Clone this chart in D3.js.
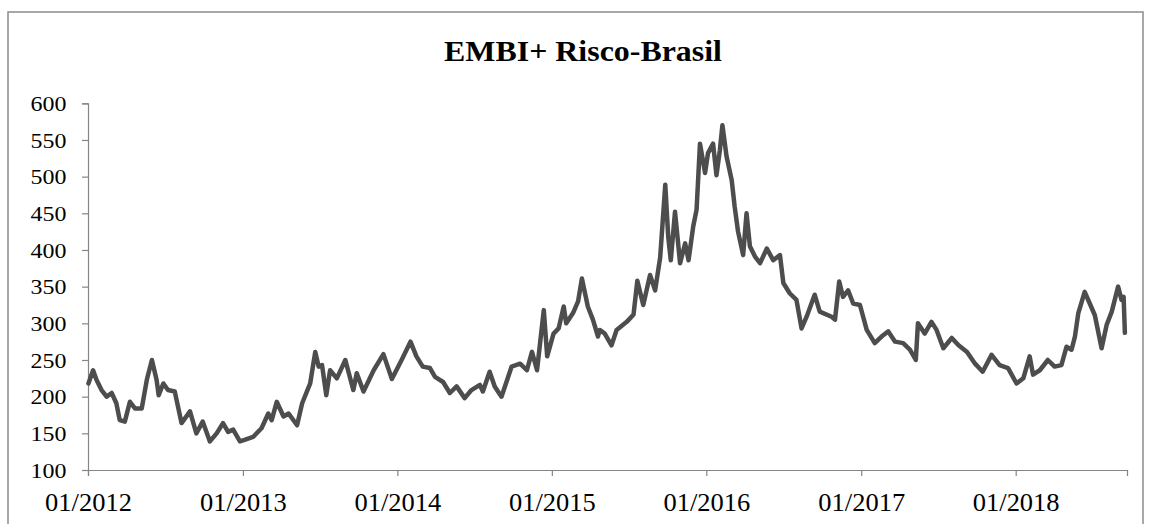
<!DOCTYPE html>
<html>
<head>
<meta charset="utf-8">
<script src="https://cdn.jsdelivr.net/npm/d3@7"></script>
<style>
  html, body { margin: 0; padding: 0; background: #ffffff; }
  svg { display: block; }
</style>
</head>
<body>
<svg id="chart" width="1153" height="524"></svg>
<script>
const title = "EMBI+ Risco-Brasil";
const yTicks = [100, 150, 200, 250, 300, 350, 400, 450, 500, 550, 600];
const xTickDates = ["2012-01-01","2013-01-01","2014-01-01","2015-01-01","2016-01-01","2017-01-01","2018-01-01"];
const xDomain = ["2012-01-01", "2018-09-21"];

const dates = [
"2012-01-02","2012-01-13","2012-01-21","2012-02-02","2012-02-14","2012-02-26","2012-03-08","2012-03-16","2012-03-28","2012-04-09",
"2012-04-21","2012-05-07","2012-05-19","2012-05-31","2012-06-11","2012-06-16","2012-06-27","2012-07-08","2012-07-24","2012-08-09",
"2012-08-29","2012-09-13","2012-09-28","2012-10-15","2012-10-31","2012-11-15","2012-11-27","2012-12-09","2012-12-25","2013-01-05",
"2013-01-25","2013-02-14","2013-03-02","2013-03-10","2013-03-22","2013-04-07","2013-04-19","2013-05-09","2013-05-21","2013-06-09",
"2013-06-21","2013-06-29","2013-07-07","2013-07-17","2013-07-26","2013-08-11","2013-08-31","2013-09-19","2013-09-27","2013-10-13",
"2013-11-06","2013-11-29","2013-12-19","2014-01-11","2014-02-01","2014-02-15","2014-03-02","2014-03-19","2014-03-31","2014-04-19",
"2014-05-05","2014-05-21","2014-06-09","2014-06-25","2014-07-15","2014-07-22","2014-08-07","2014-08-19","2014-09-04","2014-09-28",
"2014-10-18","2014-11-03","2014-11-15","2014-11-27","2014-12-13","2014-12-21","2015-01-05","2015-01-17","2015-01-29","2015-02-04",
"2015-02-20","2015-03-04","2015-03-13","2015-03-27","2015-04-08","2015-04-20","2015-04-24","2015-05-06","2015-05-22","2015-06-03",
"2015-06-27","2015-07-13","2015-07-22","2015-08-05","2015-08-21","2015-09-02","2015-09-14","2015-09-26","2015-10-03","2015-10-09",
"2015-10-19","2015-10-31","2015-11-12","2015-11-20","2015-12-01","2015-12-09","2015-12-17","2015-12-29","2016-01-05","2016-01-17",
"2016-01-25","2016-02-02","2016-02-08","2016-02-18","2016-03-01","2016-03-08","2016-03-16","2016-03-28","2016-04-05","2016-04-13",
"2016-04-25","2016-05-07","2016-05-23","2016-06-07","2016-06-23","2016-07-01","2016-07-16","2016-08-01","2016-08-13","2016-08-25",
"2016-09-13","2016-09-25","2016-10-23","2016-10-31","2016-11-10","2016-11-19","2016-12-01","2016-12-13","2016-12-29","2017-01-14",
"2017-02-02","2017-02-18","2017-03-06","2017-03-22","2017-04-10","2017-04-26","2017-05-10","2017-05-15","2017-05-31","2017-06-16",
"2017-06-28","2017-07-14","2017-08-03","2017-08-19","2017-09-08","2017-09-27","2017-10-15","2017-11-05","2017-11-24","2017-12-14",
"2018-01-03","2018-01-19","2018-02-03","2018-02-11","2018-02-27","2018-03-18","2018-04-03","2018-04-19","2018-05-01","2018-05-13",
"2018-05-21","2018-05-29","2018-06-13","2018-06-25","2018-07-07","2018-07-23","2018-08-04","2018-08-16","2018-08-31","2018-09-08",
"2018-09-13","2018-09-16"
];

const values = [
218,236,223,209,200,205,191,168,166,193,
184,184,223,250,223,202,218,209,207,164,
180,150,166,139,150,164,152,155,139,141,
145,157,177,168,193,173,177,161,191,218,
261,241,243,202,236,225,250,209,232,207,
236,258,224,250,275,255,241,239,227,220,
205,214,198,209,216,207,234,214,200,241,
245,236,261,236,318,255,286,293,323,300,
314,330,361,323,305,282,291,286,270,291,
302,312,358,325,366,345,390,489,418,386,
452,382,409,386,432,455,545,505,532,545,
502,536,570,527,495,459,425,393,450,405,
391,382,402,386,393,355,341,332,293,309,
339,316,309,305,357,336,345,327,325,291,
273,282,289,275,273,264,250,300,286,302,
291,266,280,270,261,245,234,257,243,239,
218,225,255,230,236,250,241,243,268,264,
282,314,343,327,311,266,298,316,350,332,
336,287
];

const parse = d3.timeParse("%Y-%m-%d");
const data = dates.map((d, i) => ({ date: parse(d), value: values[i] }));

const svg = d3.select("#chart");
const W = 1153, H = 524;
const margin = { left: 88, right: 26, top: 103.3, bottom: 54 };
const serif = "'Liberation Serif', 'Times New Roman', serif";

// outer frame
svg.append("rect")
  .attr("x", 8).attr("y", 12)
  .attr("width", 1135).attr("height", 530)
  .attr("fill", "none")
  .attr("stroke", "#8c8c8c")
  .attr("stroke-width", 1.5);

const x = d3.scaleTime()
  .domain(xDomain.map(parse))
  .range([margin.left, W - margin.right]);
const y = d3.scaleLinear()
  .domain([100, 600])
  .range([H - margin.bottom, margin.top]);

// title
svg.append("text")
  .attr("transform", "translate(583,61) scale(1.12,1)")
  .attr("text-anchor", "middle")
  .style("font-family", serif)
  .style("font-weight", "bold")
  .style("font-size", "28.5px")
  .attr("fill", "#000")
  .text(title);

// y axis
const yAxis = svg.append("g")
  .attr("transform", `translate(${margin.left},0)`)
  .call(d3.axisLeft(y).tickValues(yTicks).tickSize(6).tickPadding(10).tickFormat(d3.format("d")));
yAxis.selectAll("text")
  .attr("x", -19)
  .attr("dy", "0.34em")
  .attr("transform", "scale(1.14,1)")
  .style("font-family", serif)
  .style("font-size", "21px")
  .attr("fill", "#000");

// x axis
const xAxis = svg.append("g")
  .attr("transform", `translate(0,${H - margin.bottom})`)
  .call(d3.axisBottom(x).tickValues(xTickDates.map(parse)).tickSize(6).tickPadding(10).tickFormat(d3.timeFormat("%m/%Y")));
xAxis.selectAll("text")
  .attr("y", 41)
  .attr("dy", "0")
  .attr("transform", "scale(1.06,1)")
  .style("font-family", serif)
  .style("font-size", "25px")
  .attr("fill", "#000");

[yAxis, xAxis].forEach(g => {
  g.select(".domain").attr("stroke", "#858585").attr("stroke-width", 1.2);
  g.selectAll(".tick line").attr("stroke", "#858585").attr("stroke-width", 1.2);
});

// line
const line = d3.line()
  .x(d => x(d.date))
  .y(d => y(d.value));

svg.append("path")
  .datum(data)
  .attr("d", line)
  .attr("fill", "none")
  .attr("stroke", "#4d4d4d")
  .attr("stroke-width", 4.5)
  .attr("stroke-linejoin", "round")
  .attr("stroke-linecap", "round");
</script>
</body>
</html>
